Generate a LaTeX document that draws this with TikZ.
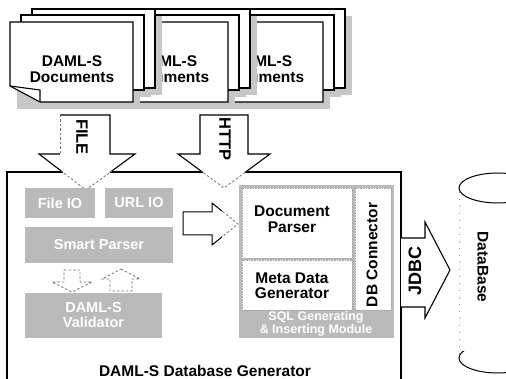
\documentclass[tikz,border=0pt]{standalone}
\usepackage{fontspec}
\setmainfont{Liberation Sans}
\begin{document}
\begin{tikzpicture}[x=1pt,y=-1pt,
  lbl/.style={font=\fontsize{15.5}{15.5}\selectfont\bfseries, align=center, inner sep=0pt},
  biglbl/.style={font=\fontsize{16.5}{16.5}\selectfont\bfseries, align=center, inner sep=0pt},
  ghost/.style={font=\fontsize{14.5}{15}\selectfont\bfseries, text=white, align=center, inner sep=0pt},
  smallghost/.style={font=\fontsize{12.5}{12.5}\selectfont\bfseries, text=white, align=center, inner sep=0pt},
  page/.style={draw=black, line width=1.1pt, fill=white, line join=miter},
  shade/.style={fill=black!22, draw=none},
  module/.style={fill=black!27, draw=none, inner sep=0pt},
  pane/.style={fill=white, draw=black!35, line width=0.6pt, densely dotted, inner sep=0pt},
  outline/.style={draw=black, line width=1.1pt},
  faint/.style={draw=black!55, line width=0.8pt, dash pattern=on 2.5pt off 2pt},
]
\useasboundingbox (0,0) rectangle (506,379);
\clip (0,0) rectangle (506,379);

% a stack of three pages with a soft shadow and a folded corner
\newcommand\docstack[2]{%
  \fill[shade] ({#1+29},16) rectangle ({#1+152},95);
  \fill[shade] ({#1+18},22) rectangle ({#1+141},97);
  \fill[shade] ({#1+7},29) rectangle ({#1+130},109);
  \draw[page] ({#1+22},9) rectangle ({#1+145},88);
  \draw[page] ({#1+11},15) rectangle ({#1+134},90);
  \draw[page] (#1,22) -- ({#1+123},22) -- ({#1+123},102) -- ({#1+30},102) -- (#1,86) -- cycle;
  \draw[page, fill=none] (#1,86) -- ({#1+30},90) -- ({#1+30},102);
  \node[lbl] (#2) at ({#1+62},69) {DAML-S\\Documents};
}
\docstack{200}{docC}
\docstack{105}{docB}
\docstack{10}{docA}

% generator frame
\draw[outline] (7,172) rectangle (401,395);
\node[lbl] (gen) at (205,371) {DAML-S Database Generator};

% FILE arrow
\fill[white] (60,115) -- (110,115) -- (110,154) -- (135,154) -- (86,190) -- (39,154) -- (60,154) -- cycle;
\begin{scope}
  \clip (0,0) rectangle (506,172);
  \draw[outline] (60,154) -- (39,154) -- (86,190) -- (135,154) -- (110,154) -- (110,115) -- (60,115);
\end{scope}
\begin{scope}
  \clip (0,172) rectangle (506,379);
  \draw[faint] (39,154) -- (86,190) -- (135,154);
\end{scope}
\draw[faint] (60,115) -- (60,154);
\node[biglbl, rotate=-90] (file) at (82,137) {FILE};

% HTTP arrow
\fill[white] (200,115) -- (248,115) -- (248,154) -- (270,154) -- (224,188) -- (178,154) -- (200,154) -- cycle;
\begin{scope}
  \clip (0,0) rectangle (506,172);
  \draw[outline] (200,115) -- (248,115) -- (248,154) -- (270,154) -- (224,188) -- (178,154) -- (200,154) -- cycle;
\end{scope}
\begin{scope}
  \clip (0,172) rectangle (506,379);
  \draw[faint] (178,154) -- (224,188) -- (270,154);
\end{scope}
\node[biglbl, rotate=-90] (http) at (225,139) {HTTP};

% input side modules
\node[module, minimum width=70pt, minimum height=30pt] (fileio) at (60,203) {};
\node[ghost] at (fileio) {File IO};
\node[module, minimum width=68pt, minimum height=30pt] (urlio) at (139,203) {};
\node[ghost] at (urlio) {URL IO};
\node[module, minimum width=148pt, minimum height=36pt] (smart) at (99,245) {};
\node[ghost] at (smart) {Smart Parser};
\node[module, minimum width=137pt, minimum height=45pt] (valid) at (93.5,315.5) {};
\node[ghost] at (valid) {DAML-S\\Validator};

% exchange with the validator
\draw[faint] (64,270) -- (80,270) -- (80,282) -- (92,282) -- (72,292) -- (52,282) -- (64,282) -- cycle;
\draw[faint] (121,269) -- (140,279) -- (132,279) -- (132,291) -- (110,291) -- (110,279) -- (102,279) -- cycle;

% hand-over arrow to the parser
\fill[white] (183,212) -- (212,212) -- (212,203) -- (238,224) -- (212,245) -- (212,235) -- (183,235) -- cycle;
\begin{scope}
  \clip (0,0) rectangle (222,379);
  \draw[outline, line width=1pt] (212,203) -- (212,212) -- (183,212) -- (183,235) -- (212,235) -- (212,245) -- (238,224) -- cycle;
\end{scope}
\begin{scope}
  \clip (222,0) rectangle (506,379);
  \draw[faint] (212,203) -- (238,224) -- (212,245);
\end{scope}

% SQL module with its panes
\node[module, minimum width=155pt, minimum height=153pt] (sql) at (316.5,261.5) {};
\node[pane, minimum width=110pt, minimum height=70pt] (docpane) at (297,223) {};
\node[pane, minimum width=110pt, minimum height=50pt] (metapane) at (297,285) {};
\node[pane, minimum width=36pt, minimum height=122pt] (dbpane) at (373,249) {};
\node[lbl] (docparser) at (292,219) {Document\\Parser};
\node[lbl] (metagen) at (292,285.5) {Meta Data\\Generator};
\node[lbl, rotate=90] (dbconn) at (372,255) {DB Connector};
\node[smallghost] (sqllbl) at (316,324) {SQL Generating\\\& Inserting Module};

% JDBC arrow out of the frame
\fill[white] (401,238) -- (425,238) -- (425,222) -- (450,270) -- (425,318) -- (425,307) -- (401,307) -- cycle;
\draw[outline] (401,238) -- (425,238) -- (425,222) -- (450,270) -- (425,318) -- (425,307) -- (401,307);
\node[font=\fontsize{18}{18}\selectfont\bfseries, inner sep=0pt, rotate=90] (jdbc) at (415,271) {JDBC};

% database cylinder
\draw[outline, line width=1pt] (498,188) ellipse [x radius=39pt, y radius=15pt];
\begin{scope}
  \clip (440,351) rectangle (506,379);
  \draw[outline, line width=1pt] (498,358) ellipse [x radius=39pt, y radius=15pt];
\end{scope}
\draw[black!45, line width=0.6pt, dash pattern=on 1pt off 6pt] (459,192) -- (459,354);
\node[font=\fontsize{15.5}{15.5}\selectfont\bfseries, inner sep=0pt, rotate=-90] (db) at (483,267) {DataBase};
\end{tikzpicture}
\end{document}
